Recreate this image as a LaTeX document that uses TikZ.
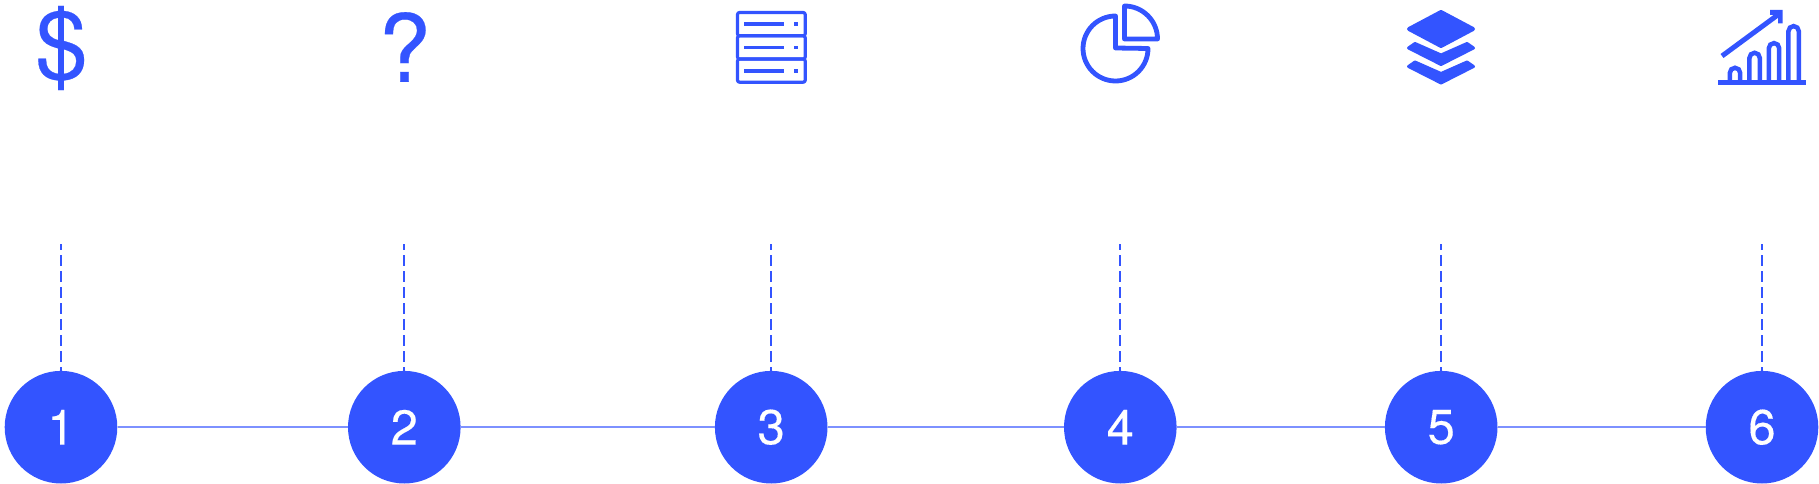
\documentclass[tikz,border=0pt]{standalone}
\usepackage{fontspec}
\setmainfont[FakeBold=0.25]{TeX Gyre Heros}
\usepackage{xcolor}
\definecolor{stepblue}{RGB}{51,84,255}
\definecolor{linkblue}{RGB}{125,145,255}

\begin{document}
\begin{tikzpicture}[x=1pt,y=-1pt]
% Define styles
\tikzstyle{stepnode} = [circle, fill=stepblue, text=white, inner sep=0pt, minimum size=112.6pt, font=\fontsize{49}{49}\selectfont]
\tikzstyle{glyph} = [text=stepblue, inner sep=0pt, font=\fontsize{94}{94}\selectfont]
\tikzstyle{dashlink} = [draw=stepblue, line width=2pt, dash pattern=on 11pt off 5pt, dash phase=5pt]
\tikzstyle{steplink} = [draw=linkblue, line width=1.6pt]
\tikzstyle{icon} = [draw=stepblue, line width=3.2pt, line join=round]
\tikzstyle{pie} = [draw=stepblue, line width=4.8pt, line join=round]
\tikzstyle{layer} = [draw=stepblue, fill=stepblue, line width=2pt, line join=round]
\tikzstyle{bar} = [draw=stepblue, line width=4.5pt]
\useasboundingbox (0,0) rectangle (1819,484);
% Define nodes
\node[stepnode] (step_1) at (61,427.2) {1};
\node[stepnode] (step_2) at (404.3,427.2) {2};
\node[stepnode] (step_3) at (771.2,427.2) {3};
\node[stepnode] (step_4) at (1120.3,427.2) {4};
\node[stepnode] (step_5) at (1441.2,427.2) {5};
\node[stepnode] (step_6) at (1762,427.2) {6};
\coordinate (top_1) at (61,244);
\coordinate (top_2) at (404.3,244);
\coordinate (top_3) at (771.2,244);
\coordinate (top_4) at (1120.3,244);
\coordinate (top_5) at (1441.2,244);
\coordinate (top_6) at (1762,244);
\node[glyph] (dollar) at (61.5,48) {\$};
\node[glyph] (question) at (404.5,47) {?};
% Connect the nodes
\draw[steplink] (step_1) -- (step_2);
\draw[steplink] (step_2) -- (step_3);
\draw[steplink] (step_3) -- (step_4);
\draw[steplink] (step_4) -- (step_5);
\draw[steplink] (step_5) -- (step_6);
\draw[dashlink] (top_1) -- (step_1);
\draw[dashlink] (top_2) -- (step_2);
\draw[dashlink] (top_3) -- (step_3);
\draw[dashlink] (top_4) -- (step_4);
\draw[dashlink] (top_5) -- (step_5);
\draw[dashlink] (top_6) -- (step_6);
% Server icon
\draw[icon, rounded corners=2pt] (737.5,12.5) rectangle (805.2,35.8);
\draw[icon, rounded corners=2pt] (737.5,35.8) rectangle (805.2,59);
\draw[icon, rounded corners=2pt] (737.5,59) rectangle (805.2,82.2);
\draw[icon] (744.3,24) -- (784.3,24);
\draw[icon] (744.3,47.3) -- (784.3,47.3);
\draw[icon] (744.3,71) -- (784.3,71);
\fill[stepblue] (794.3,22.3) rectangle (797.7,25.7);
\fill[stepblue] (794.3,45.6) rectangle (797.7,49);
\fill[stepblue] (794.3,69.3) rectangle (797.7,72.7);
% Pie icon
\draw[pie] (1115.5,16) arc[start angle=90, end angle=360, radius=32.5pt] -- (1115.5,48) -- cycle;
\draw[pie] (1124.5,6) arc[start angle=90, end angle=0, radius=33pt] -- (1124.5,39) -- cycle;
% Layers icon
\draw[layer, line width=4pt] (1441,12) -- (1473,29) -- (1441,46) -- (1409,29) -- cycle;
\draw[layer, line width=3pt] (1415,43.5) -- (1408.5,48) -- (1441,64.5) -- (1473.5,48) -- (1467,43.5) -- (1441,55) -- cycle;
\draw[layer, line width=3pt] (1415,62) -- (1408.5,66.5) -- (1441,83) -- (1473.5,66.5) -- (1467,62) -- (1441,73.5) -- cycle;
% Chart icon
\draw[bar, line width=5pt] (1718,82.5) -- (1806,82.5);
\draw[bar] (1729.8,81) -- (1729.8,73) arc[start angle=180, end angle=0, radius=5.2pt] -- (1740.2,81);
\draw[bar] (1749.4,81) -- (1749.4,58) arc[start angle=180, end angle=0, radius=5.2pt] -- (1759.8,81);
\draw[bar] (1768.8,81) -- (1768.8,48.3) arc[start angle=180, end angle=0, radius=5.2pt] -- (1779.2,81);
\draw[bar] (1788.4,81) -- (1788.4,31.3) arc[start angle=180, end angle=0, radius=5.2pt] -- (1798.8,81);
\draw[bar, line width=5pt] (1722,56) -- (1779,14);
\fill[stepblue] (1770,10) -- (1782.7,10) -- (1782.7,23.3) -- (1778,23.3) -- (1778,15) -- (1770,15) -- cycle;
\end{tikzpicture}
\end{document}
